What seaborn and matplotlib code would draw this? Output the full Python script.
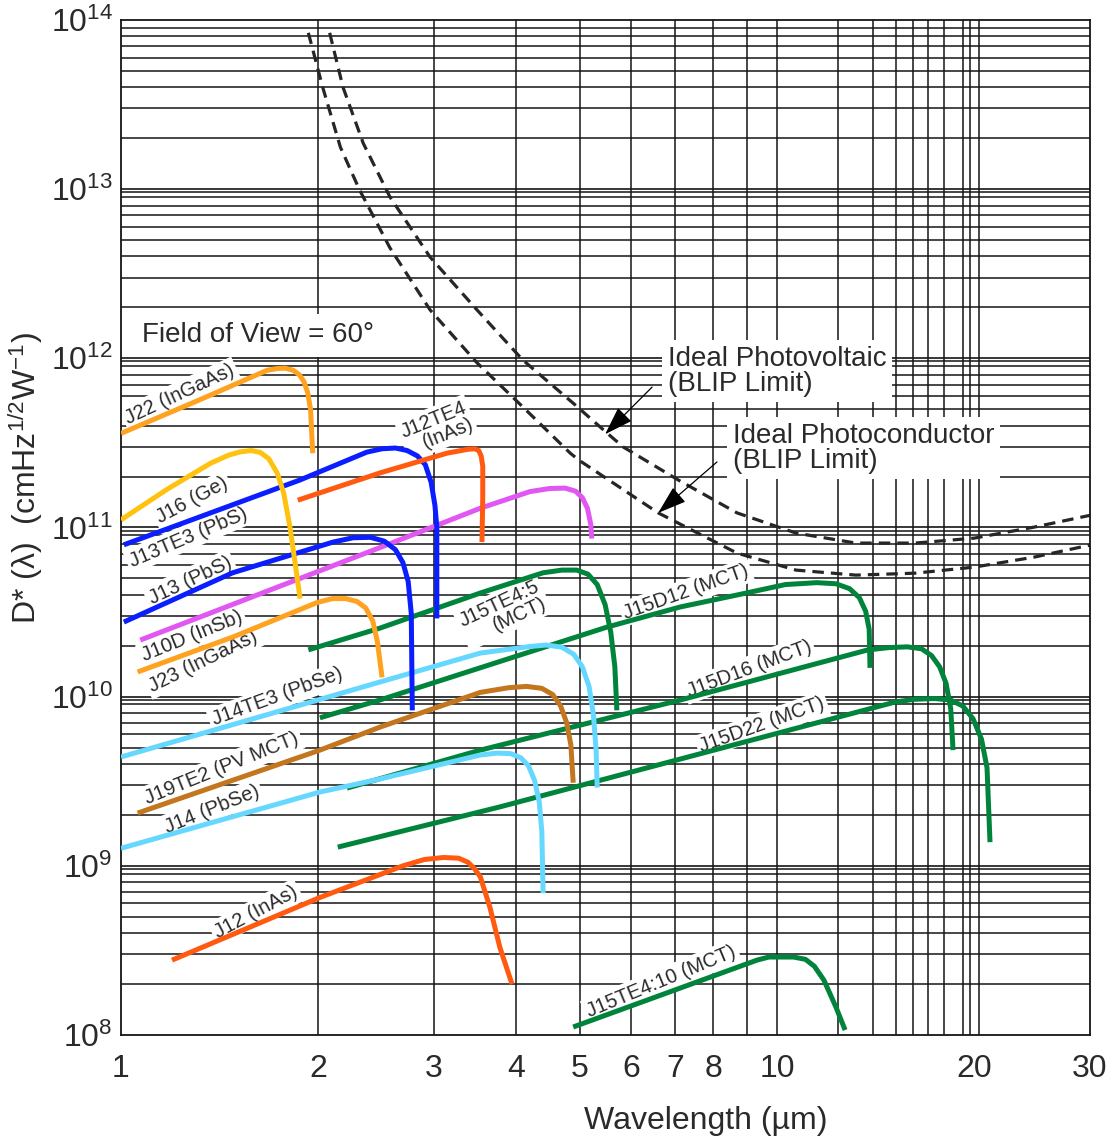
import numpy as np
import pandas as pd
import matplotlib
matplotlib.use("Agg")
import matplotlib.pyplot as plt
from matplotlib.ticker import NullLocator
import seaborn as sns

# ---------------- data (wavelength in um, D* in cm Hz^1/2 W^-1) ----------------
wl_J22 = [1.00, 1.32, 1.67, 1.73, 1.78, 1.83, 1.87, 1.90, 1.925, 1.945, 1.96]
d_J22 = [3.6e11, 5.7e11, 8.5e11, 8.7e11, 8.75e11, 8.5e11, 8.0e11, 7.3e11, 6.3e11, 5.0e11, 2.75e11]

wl_J16 = [1.0, 1.175, 1.37, 1.46, 1.52, 1.58, 1.63, 1.68, 1.73, 1.77, 1.81, 1.84, 1.875]
d_J16 = [1.11e11, 1.68e11, 2.4e11, 2.68e11, 2.8e11, 2.85e11, 2.78e11, 2.55e11, 2.1e11, 1.6e11,
         1.0e11, 6.4e10, 3.8e10]

wl_J13TE3 = [1.01, 1.875, 2.37, 2.5, 2.62, 2.73, 2.83, 2.91, 2.97, 3.01, 3.03, 3.03]
d_J13TE3 = [7.9e10, 1.91e11, 2.79e11, 2.92e11, 2.95e11, 2.85e11, 2.65e11, 2.35e11, 1.85e11,
            1.35e11, 1.0e11, 2.9e10]

wl_J13 = [1.01, 1.48, 2.105, 2.26, 2.40, 2.52, 2.62, 2.69, 2.74, 2.77, 2.78]
d_J13 = [2.76e10, 5.4e10, 8.2e10, 8.7e10, 8.75e10, 8.3e10, 7.4e10, 6.2e10, 4.8e10, 3.1e10, 8.3e9]

wl_J10D = [1.07, 2.48, 3.53, 4.2, 4.5, 4.75, 4.93, 5.05, 5.14, 5.20, 5.22]
d_J10D = [2.16e10, 7.6e10, 1.30e11, 1.63e11, 1.70e11, 1.71e11, 1.64e11, 1.5e11, 1.3e11, 1.05e11, 8.6e10]

wl_J12TE4 = [1.86, 2.48, 3.14, 3.38, 3.46, 3.51, 3.54, 3.56, 3.56, 3.55]
d_J12TE4 = [1.45e11, 2.1e11, 2.75e11, 2.9e11, 2.92e11, 2.85e11, 2.65e11, 2.3e11, 1.5e11, 8.2e10]

wl_J23 = [1.06, 1.48, 1.99, 2.10, 2.20, 2.29, 2.36, 2.42, 2.46, 2.50]
d_J23 = [1.4e10, 2.25e10, 3.6e10, 3.8e10, 3.8e10, 3.65e10, 3.35e10, 2.8e10, 2.1e10, 1.3e10]

wl_J15TE4_5 = [1.93, 2.48, 3.53, 4.4, 4.7, 4.95, 5.15, 5.32, 5.47, 5.58, 5.66, 5.70]
d_J15TE4_5 = [1.89e10, 2.54e10, 4.1e10, 5.4e10, 5.6e10, 5.6e10, 5.3e10, 4.6e10, 3.5e10, 2.4e10,
              1.5e10, 8.3e9]

wl_J14TE3 = [1.00, 2.48, 3.53, 4.2, 4.45, 4.7, 4.9, 5.05, 5.17, 5.25, 5.30, 5.32]
d_J14TE3 = [4.4e9, 1.22e10, 1.81e10, 1.98e10, 2.02e10, 1.96e10, 1.78e10, 1.5e10, 1.15e10, 7.8e9,
            4.8e9, 2.9e9]

wl_J15D12 = [2.01, 2.48, 5.51, 7.12, 8.69, 10.3, 11.5, 12.3, 12.9, 13.35, 13.65, 13.82, 13.86]
d_J15D12 = [7.5e9, 9.55e9, 2.58e10, 3.39e10, 3.99e10, 4.6e10, 4.72e10, 4.65e10, 4.35e10, 3.85e10,
            3.2e10, 2.5e10, 1.48e10]

wl_J19TE2 = [1.06, 2.01, 2.48, 3.53, 3.9, 4.15, 4.38, 4.55, 4.68, 4.78, 4.85, 4.89]
d_J19TE2 = [2.05e9, 4.83e9, 6.6e9, 1.06e10, 1.13e10, 1.15e10, 1.12e10, 1.03e10, 8.8e9, 7.0e9,
            5.2e9, 3.1e9]

wl_J14 = [1.00, 2.01, 2.48, 3.53, 3.75, 3.93, 4.07, 4.18, 4.27, 4.34, 4.38, 4.40]
d_J14 = [1.27e9, 2.73e9, 3.26e9, 4.52e9, 4.64e9, 4.6e9, 4.35e9, 3.9e9, 3.2e9, 2.4e9, 1.6e9, 6.9e8]

wl_J15D16 = [2.21, 3.53, 7.12, 13.76, 14.8, 15.8, 16.6, 17.2, 17.7, 18.1, 18.4, 18.55]
d_J15D16 = [2.88e9, 4.83e9, 9.55e9, 1.89e10, 1.95e10, 1.97e10, 1.92e10, 1.75e10, 1.5e10, 1.2e10,
            8.5e9, 4.83e9]

wl_J15D22 = [2.14, 3.78, 8.69, 15.13, 16.2, 17.4, 18.4, 19.2, 19.9, 20.5, 20.9, 21.12]
d_J15D22 = [1.29e9, 2.23e9, 5.25e9, 9.29e9, 9.65e9, 9.75e9, 9.55e9, 8.8e9, 7.4e9, 5.6e9, 3.8e9, 1.38e9]

wl_J12 = [1.196, 2.01, 2.69, 2.90, 3.1, 3.27, 3.38, 3.46, 3.53, 3.65, 3.78, 3.945]
d_J12 = [2.77e8, 6.5e8, 1.0e9, 1.09e9, 1.12e9, 1.11e9, 1.05e9, 9.6e8, 8.6e8, 5.7e8, 3.3e8, 2.0e8]

wl_J15TE4_10 = [4.89, 9.32, 9.72, 10.6, 11.05, 11.4, 11.79, 12.30, 12.70]
d_J15TE4_10 = [1.115e8, 2.77e8, 2.89e8, 2.89e8, 2.8e8, 2.55e8, 2.11e8, 1.46e8, 1.07e8]

wl_PV = [2.08, 2.18, 2.34, 2.57, 2.96, 3.49, 4.10, 4.89, 5.51, 5.83, 7.07, 8.69,
         10.69, 13.19, 16.23, 19.97, 24.65, 30.0]
d_PV = [8.4e13, 4.0e13, 1.87e13, 9.0e12, 3.96e12, 1.93e12, 9.75e11, 5.43e11, 3.61e11,
        2.99e11, 1.91e11, 1.22e11, 9.27e10, 8.09e10, 8.09e10, 8.65e10, 1.005e11, 1.18e11]

wl_PC = [1.93, 2.03, 2.16, 2.31, 2.57, 2.96, 3.49, 4.10, 4.84, 4.99, 6.59, 8.69,
         10.69, 13.19, 16.23, 19.97, 24.65, 30.0]
d_PC = [8.4e13, 4.0e13, 1.77e13, 9.9e12, 4.5e12, 1.93e12, 9.4e11, 5.15e11, 2.75e11,
        2.5e11, 1.22e11, 7.06e10, 5.6e10, 5.23e10, 5.37e10, 5.83e10, 6.68e10, 7.87e10]

# curve labels: text, wavelength, D*, rotation
label_text = ["J22 (InGaAs)", "J16 (Ge)", "J13TE3 (PbS)", "J13 (PbS)", "J10D (InSb)",
              "J23 (InGaAs)", "J12TE4\n(InAs)", "J15TE4:5\n(MCT)", "J14TE3 (PbSe)",
              "J19TE2 (PV MCT)", "J14 (PbSe)", "J12 (InAs)", "J15D12 (MCT)",
              "J15D16 (MCT)", "J15D22 (MCT)", "J15TE4:10 (MCT)"]
label_wl = [1.230, 1.283, 1.265, 1.274, 1.283, 1.334, 3.03, 3.82, 1.729,
            1.425, 1.376, 1.606, 7.27, 9.06, 9.49, 6.66]
label_d = [6.14e11, 1.45e11, 8.77e10, 4.89e10, 2.28e10, 1.62e10, 3.87e11, 3.16e10, 9.95e9,
           3.78e9, 2.17e9, 5.33e8, 4.15e10, 1.46e10, 6.8e9, 2.08e8]
label_rot = [25, 28, 23, 25, 22, 26, 22, 25, 20, 22, 22, 28, 19.5, 20.5, 19.7, 22.5]

xtick_vals = [1, 2, 3, 4, 5, 6, 7, 8, 10, 20, 30]
xtick_labels = ["1", "2", "3", "4", "5", "6", "7", "8", "10", "20", "30"]
ytick_vals = [1e8, 1e9, 1e10, 1e11, 1e12, 1e13, 1e14]
ytick_labels = ["10$^{8}$", "10$^{9}$", "10$^{10}$", "10$^{11}$", "10$^{12}$", "10$^{13}$", "10$^{14}$"]

grid_x = [2, 3, 4, 5, 6, 7, 8, 9, 10, 12.4, 14, 15.2, 16.1, 17, 18, 19.2, 19.7, 20.3]

# ---------------- assemble ----------------
series = {
    "J15TE4:10": (wl_J15TE4_10, d_J15TE4_10), "J15D22": (wl_J15D22, d_J15D22),
    "J15D16": (wl_J15D16, d_J15D16), "J15D12": (wl_J15D12, d_J15D12),
    "J15TE4:5": (wl_J15TE4_5, d_J15TE4_5), "J19TE2": (wl_J19TE2, d_J19TE2),
    "J14": (wl_J14, d_J14), "J14TE3": (wl_J14TE3, d_J14TE3),
    "J12": (wl_J12, d_J12), "J10D": (wl_J10D, d_J10D), "J13": (wl_J13, d_J13),
    "J13TE3": (wl_J13TE3, d_J13TE3), "J12TE4": (wl_J12TE4, d_J12TE4),
    "J23": (wl_J23, d_J23), "J16": (wl_J16, d_J16), "J22": (wl_J22, d_J22),
}
palette = {
    "J22": "#FFA21F", "J23": "#FFA21F", "J16": "#FFC20E",
    "J13TE3": "#0A1EFF", "J13": "#0A1EFF", "J12TE4": "#FF5A0F", "J12": "#FF5A0F",
    "J10D": "#E157F2", "J14TE3": "#66D8FF", "J14": "#66D8FF", "J19TE2": "#C4761E",
    "J15TE4:5": "#00843C", "J15D12": "#00843C", "J15D16": "#00843C",
    "J15D22": "#00843C", "J15TE4:10": "#00843C",
}
rows = []
for name, (wl, d) in series.items():
    for i, (a, b) in enumerate(zip(wl, d)):
        rows.append({"detector": name, "order": i, "wavelength": a, "D": b})
df = pd.DataFrame(rows)

# ---------------- style ----------------
sns.set_style("white")
plt.rcParams["font.family"] = ["Liberation Sans", "DejaVu Sans"]
plt.rcParams["mathtext.fontset"] = "custom"
plt.rcParams["mathtext.rm"] = "Liberation Sans"
plt.rcParams["mathtext.it"] = "Liberation Sans:italic"
plt.rcParams["mathtext.bf"] = "Liberation Sans:bold"
plt.rcParams["lines.solid_capstyle"] = "butt"
plt.rcParams["lines.solid_joinstyle"] = "round"

TXT = "#2a2a2a"
GRID = "#151515"

fig = plt.figure(figsize=(11.19, 11.44), dpi=100)
ax = fig.add_axes([121 / 1119, 1 - 1035 / 1144, 969 / 1119, 1015 / 1144])
ax.set_xscale("log")
ax.set_yscale("log")
ax.set_xlim(1, 30)
ax.set_ylim(1e8, 1e14)

# grid
for gx in grid_x:
    ax.axvline(gx, color=GRID, lw=1.1, zorder=0.5)
for n in range(8, 14):
    for k in range(2, 10):
        ax.axhline(k * 10.0 ** n, color=GRID, lw=1.1, zorder=0.5)
for n in range(9, 14):
    ax.axhline(10.0 ** n, color=GRID, lw=1.2, zorder=0.5)
    ax.axhline(0.958 * 10.0 ** n, color=GRID, lw=1.1, zorder=0.5)

# detector curves
sns.lineplot(data=df, x="wavelength", y="D", hue="detector", hue_order=list(series.keys()),
             palette=palette, sort=False, estimator=None, units="detector",
             linewidth=3.6, legend=False, ax=ax, zorder=3)

# BLIP limits
sns.lineplot(x=wl_PV, y=d_PV, color="#262626", linewidth=2.3, sort=False, estimator=None, ax=ax, zorder=2.5)
sns.lineplot(x=wl_PC, y=d_PC, color="#262626", linewidth=2.3, sort=False, estimator=None, ax=ax, zorder=2.5)
for ln in ax.lines[-2:]:
    ln.set_dashes([3.6, 2.2])

# curve labels
for s, x, y, r in zip(label_text, label_wl, label_d, label_rot):
    ax.text(x, y, s, rotation=r, rotation_mode="anchor", ha="center", va="center",
            multialignment="right", fontsize=14.5, color=TXT, zorder=1.5, linespacing=0.95,
            bbox=dict(boxstyle="square,pad=0.15", fc="white", ec="none"))

# annotations
ax.text(1.077, 1.37e12, "Field of View = 60°", ha="left", va="center", fontsize=20, color=TXT,
        zorder=1.5, bbox=dict(boxstyle="square,pad=0.3", fc="white", ec="none"))
ax.text(6.82, 8.4e11, "Ideal Photovoltaic\n(BLIP Limit)", ha="left", va="center", fontsize=20,
        color=TXT, linespacing=0.95, zorder=1.5,
        bbox=dict(boxstyle="square,pad=0.2", fc="white", ec="none"))
ax.text(8.57, 2.95e11, "Ideal Photoconductor\n(BLIP Limit)", ha="left", va="center", fontsize=20,
        color=TXT, linespacing=0.95, zorder=1.5,
        bbox=dict(boxstyle="square,pad=0.2", fc="white", ec="none"))
arrow = dict(arrowstyle="-|>,head_length=0.9,head_width=0.3", color="black", lw=0.9,
             mutation_scale=20, shrinkA=0, shrinkB=0)
ax.annotate("", xy=(5.47, 3.56e11), xytext=(6.45, 6.76e11), arrowprops=arrow, zorder=4)
ax.annotate("", xy=(6.59, 1.22e11), xytext=(8.10, 2.44e11), arrowprops=arrow, zorder=4)

# axes
ax.xaxis.set_minor_locator(NullLocator())
ax.yaxis.set_minor_locator(NullLocator())
ax.set_xticks(xtick_vals, labels=xtick_labels)
ax.set_yticks(ytick_vals, labels=ytick_labels)
ax.tick_params(axis="x", which="both", length=0, labelsize=23, pad=14, labelcolor=TXT)
ax.tick_params(axis="y", which="both", length=0, labelsize=23, pad=6, labelcolor=TXT)
ax.grid(False)
for sp in ax.spines.values():
    sp.set_color(GRID)
    sp.set_linewidth(1.3)
    sp.set_visible(True)

ax.set_xlabel("Wavelength (µm)", fontsize=23, color=TXT)
ax.xaxis.set_label_coords(0.603, -0.07)
ax.set_ylabel("D* (λ)  (cmHz$^{1/2}$W$^{-1}$)", fontsize=23, color=TXT)
ax.yaxis.set_label_coords(-0.078, 0.549)

fig.savefig("out.png", dpi=100)
